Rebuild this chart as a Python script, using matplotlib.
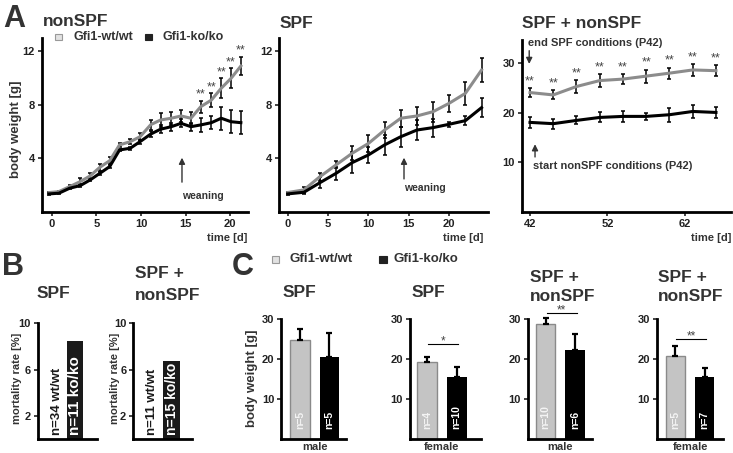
import matplotlib
matplotlib.use('Agg')
import matplotlib.pyplot as plt
from matplotlib.patches import Rectangle
from matplotlib.transforms import blended_transform_factory

plt.rcParams['font.family'] = 'Liberation Sans'
plt.rcParams['font.weight'] = 'bold'
plt.rcParams['text.color'] = '#222222'
plt.rcParams['xtick.color'] = '#222222'
plt.rcParams['ytick.color'] = '#222222'

W, H = 733, 453
GRAY = '#8c8c8c'
DARK = '#333333'

# ---- A: growth curves ----
nonspf_days = [-0.3, 0.8, 2.0, 3.2, 4.3, 5.4, 6.5, 7.6, 8.8, 9.9, 11.1, 12.2, 13.4, 14.5, 15.6, 16.7, 17.9, 19.0, 20.1, 21.2]
nonspf_wt = [1.43, 1.5, 1.87, 2.25, 2.67, 3.32, 3.81, 4.99, 5.23, 5.6, 6.5, 6.85, 6.98, 7.15, 6.98, 7.84, 8.34, 9.22, 9.96, 10.88]
nonspf_wt_err = [0.05, 0.08, 0.1, 0.25, 0.22, 0.25, 0.25, 0.15, 0.2, 0.25, 0.37, 0.5, 0.47, 0.46, 0.45, 0.45, 0.5, 0.75, 0.75, 0.7]
nonspf_ko = [1.33, 1.38, 1.75, 1.95, 2.37, 2.87, 3.37, 4.61, 4.74, 5.23, 5.8, 6.16, 6.35, 6.6, 6.35, 6.48, 6.65, 6.98, 6.72, 6.65]
nonspf_ko_err = [0.05, 0.05, 0.08, 0.1, 0.1, 0.1, 0.1, 0.1, 0.1, 0.15, 0.2, 0.3, 0.3, 0.3, 0.3, 0.5, 0.47, 0.87, 0.87, 0.87]
nonspf_sig = [15, 16, 17, 18, 19]

spf_days = [0, 2, 4, 6, 8, 10, 12, 14, 16, 18, 20, 22, 24]
spf_wt = [1.43, 1.63, 2.62, 3.5, 4.37, 5.1, 6.1, 6.98, 7.15, 7.47, 8.1, 8.84, 10.58]
spf_wt_err = [0.05, 0.2, 0.3, 0.25, 0.5, 0.63, 0.62, 0.62, 0.7, 0.75, 0.62, 0.87, 0.87]
spf_ko = [1.33, 1.45, 2.17, 2.87, 3.67, 4.24, 4.99, 5.6, 6.1, 6.28, 6.53, 6.8, 7.77]
spf_ko_err = [0.05, 0.15, 0.42, 0.5, 0.8, 0.62, 0.75, 0.74, 0.74, 0.68, 0.2, 0.35, 0.7]

mix_days = [42, 45, 48, 51, 54, 57, 60, 63, 66]
mix_wt = [24.08, 23.6, 25.3, 26.5, 26.8, 27.4, 28.0, 28.65, 28.5]
mix_wt_err = [0.9, 0.9, 1.3, 1.3, 1.0, 1.3, 1.1, 1.2, 1.1]
mix_ko = [18.05, 17.79, 18.45, 19.05, 19.26, 19.26, 19.6, 20.26, 20.06]
mix_ko_err = [1.1, 1.0, 0.8, 1.0, 1.1, 0.75, 1.4, 1.3, 1.1]
mix_sig = [0, 1, 2, 3, 4, 5, 6, 7, 8]

# ---- B: mortality ----
mort_spf = [0, 8.5]
mort_spf_n = [34, 11]
mort_mix = [0, 6.75]
mort_mix_n = [11, 15]

# ---- C: adult body weight ----
c_sex = ['male', 'female', 'male', 'female']
c_wt = [24.75, 19.4, 28.8, 20.8]
c_wt_err = [2.75, 1.25, 1.6, 2.5]
c_ko = [20.65, 15.6, 22.4, 15.5]
c_ko_err = [6.0, 2.55, 3.85, 2.4]
c_wt_n = [5, 4, 10, 5]
c_ko_n = [5, 10, 6, 7]
c_sig = ['', '*', '**', '**']
c_sig_y = [0, 23.75, 31.5, 25.0]

fig = plt.figure(figsize=(W / 100, H / 100), dpi=100)


def add_ax(x0, y0, x1, y1):
    return fig.add_axes([x0 / W, 1 - y1 / H, (x1 - x0) / W, (y1 - y0) / H])


def ftext(x, y, s, **kw):
    return fig.text(x / W, 1 - y / H, s, **kw)


def style(ax):
    for s in ['top', 'right']:
        ax.spines[s].set_visible(False)
    for s in ['left', 'bottom']:
        ax.spines[s].set_linewidth(2)
    ax.tick_params(width=1.2, length=3, labelsize=8, pad=2)


def growth(ax, days, wt, wt_err, ko, ko_err):
    ax.errorbar(days, wt, yerr=wt_err, color=GRAY, lw=2.2, ecolor='black',
                elinewidth=1.1, capsize=1.6, capthick=1.1, clip_on=False)
    ax.errorbar(days, ko, yerr=ko_err, color='black', lw=2.2, ecolor='black',
                elinewidth=1.1, capsize=1.6, capthick=1.1, clip_on=False)


# A1 nonSPF
ax = add_ax(42, 38.3, 248, 211.7)
style(ax)
growth(ax, nonspf_days, nonspf_wt, nonspf_wt_err, nonspf_ko, nonspf_ko_err)
for i in nonspf_sig:
    ax.text(nonspf_days[i], nonspf_wt[i] + nonspf_wt_err[i] + 0.45, '**',
            ha='center', va='center', fontsize=9, color='#444444', fontweight='normal')
ax.annotate('', xy=(14.6, 4.24), xytext=(14.6, 2.0),
            arrowprops=dict(arrowstyle='-|>', color=DARK, lw=1, mutation_scale=9))
ax.text(14.6, 1.2, 'weaning', ha='left', va='center', fontsize=7.5, color=DARK)
ax.set_xlim(-1.09, 22.0)
ax.set_ylim(0, 12.95)
ax.set_xticks([0, 5, 10, 15, 20])
ax.set_yticks([4, 8, 12])

# A2 SPF
ax = add_ax(279.3, 38.3, 488, 211.7)
style(ax)
growth(ax, spf_days, spf_wt, spf_wt_err, spf_ko, spf_ko_err)
ax.annotate('', xy=(14.4, 4.24), xytext=(14.4, 2.24),
            arrowprops=dict(arrowstyle='-|>', color=DARK, lw=1, mutation_scale=9))
ax.text(14.4, 1.75, 'weaning', ha='left', va='center', fontsize=7.5, color=DARK)
ax.set_xlim(-1.04, 24.8)
ax.set_ylim(0, 12.95)
ax.set_xticks([0, 5, 10, 15, 20])
ax.set_yticks([4, 8, 12])

# A3 SPF + nonSPF
ax = add_ax(521.7, 40, 730.7, 211.7)
style(ax)
growth(ax, mix_days, mix_wt, mix_wt_err, mix_ko, mix_ko_err)
for i in mix_sig:
    ax.text(mix_days[i], mix_wt[i] + mix_wt_err[i] + 1.4, '**',
            ha='center', va='center', fontsize=9, color='#444444', fontweight='normal')
ax.annotate('', xy=(41.9, 29.3), xytext=(41.9, 33.1),
            arrowprops=dict(arrowstyle='-|>', color=DARK, lw=1, mutation_scale=9))
ax.text(41.75, 34.1, 'end SPF conditions (P42)', ha='left', va='center',
        fontsize=8, color=DARK, clip_on=False)
ax.annotate('', xy=(42.65, 14.2), xytext=(42.65, 10.5),
            arrowprops=dict(arrowstyle='-|>', color=DARK, lw=1, mutation_scale=9))
ax.text(42.4, 9.2, 'start nonSPF conditions (P42)', ha='left', va='center',
        fontsize=8, color=DARK)
ax.set_xlim(40.93, 67.9)
ax.set_ylim(0, 34.7)
ax.set_xticks([42, 52, 62])
ax.set_yticks([10, 20, 30])

# A titles / labels
ftext(3, 27, 'A', fontsize=22, va='baseline', color=DARK)
ftext(42.7, 26, 'nonSPF', fontsize=12.5, va='baseline', color=DARK)
ftext(280, 28, 'SPF', fontsize=12.5, va='baseline', color=DARK)
ftext(521.7, 28.3, 'SPF + nonSPF', fontsize=12.5, va='baseline', color=DARK)
ftext(16, 129, 'body weight [g]', rotation=90, ha='center', va='center', fontsize=9.5, color=DARK)
for xr in [247, 483, 731]:
    ftext(xr, 238, 'time [d]', ha='right', va='center', fontsize=8, color=DARK)

# A legend
fig.add_artist(Rectangle((55 / W, 1 - 40.3 / H), 6.7 / W, 6.7 / H, transform=fig.transFigure,
                         facecolor='#e2e2e2', edgecolor='#999999', lw=0.8))
ftext(73.3, 37.5, 'Gfi1-wt/wt', va='center', fontsize=9, color=DARK)
fig.add_artist(Rectangle((145 / W, 1 - 40.3 / H), 6.7 / W, 6.7 / H, transform=fig.transFigure,
                         facecolor='#222222', edgecolor='#222222', lw=0.8))
ftext(162.3, 37.5, 'Gfi1-ko/ko', va='center', fontsize=9, color=DARK)

# ---- B ----
b_specs = [(37.7, 96.7, -1.04, 2.19, mort_spf, mort_spf_n, 11),
           (133.3, 191.7, -0.92, 2.0, mort_mix, mort_mix_n, 10)]
for x0, x1, xl0, xl1, vals, ns, fs in b_specs:
    ax = add_ax(x0, 323.3, x1, 439.3)
    style(ax)
    ax.bar([0, 1], vals, width=0.86, color='#1a1a1a')
    ax.text(0, 0.35, f'n={ns[0]} wt/wt', rotation=90, ha='center', va='bottom',
            fontsize=9.5, color='#1a1a1a')
    ax.text(1, 0.4, f'n={ns[1]} ko/ko', rotation=90, ha='center', va='bottom',
            fontsize=fs, color='white')
    ax.set_xlim(xl0, xl1)
    ax.set_ylim(0, 10)
    ax.set_xticks([])
    ax.set_yticks([2, 6, 10])

ftext(1.7, 275, 'B', fontsize=22, va='baseline', color=DARK)
ftext(36.7, 298, 'SPF', fontsize=12.5, va='baseline', color=DARK)
ftext(135, 278, 'SPF +', fontsize=12.5, va='baseline', color=DARK)
ftext(135, 300, 'nonSPF', fontsize=12.5, va='baseline', color=DARK)
ftext(17, 378, 'mortality rate [%]', rotation=90, ha='center', va='center', fontsize=8, color=DARK)
ftext(115.5, 378, 'mortality rate [%]', rotation=90, ha='center', va='center', fontsize=8, color=DARK)

# ---- C ----
c_boxes = [(281.3, 346.3, -0.64, 1.58), (409.7, 481.3, -0.57, 1.82),
           (527.7, 592.3, -0.61, 1.58), (656.7, 723.3, -0.63, 1.63)]
for k, (x0, x1, xl0, xl1) in enumerate(c_boxes):
    ax = add_ax(x0, 319.3, x1, 439.3)
    style(ax)
    ax.bar([0], [c_wt[k]], width=0.66, color='#c4c4c4', edgecolor='#8a8a8a', lw=1)
    ax.bar([1], [c_ko[k]], width=0.66, color='black')
    ax.errorbar([0, 1], [c_wt[k], c_ko[k]], yerr=[[0, 0], [c_wt_err[k], c_ko_err[k]]],
                fmt='none', ecolor='black', elinewidth=1.6, capsize=2.5, capthick=1.6, clip_on=False)
    ax.text(0, 2.5, f'n={c_wt_n[k]}', rotation=90, ha='center', va='bottom', fontsize=7.5, color='#f4f4f4')
    ax.text(1, 2.5, f'n={c_ko_n[k]}', rotation=90, ha='center', va='bottom', fontsize=7.5, color='white')
    if c_sig[k]:
        ax.plot([0.03, 1.05], [c_sig_y[k], c_sig_y[k]], color='black', lw=0.8, clip_on=False)
        ax.text(0.54, c_sig_y[k] + 0.8, c_sig[k], ha='center', va='center', fontsize=8.5,
                color='#444444', fontweight='normal', clip_on=False)
    tr = blended_transform_factory(ax.transData, ax.transAxes)
    ax.text(0.5, -0.06, c_sex[k], transform=tr, ha='center', va='center', fontsize=8, color=DARK)
    ax.set_xlim(xl0, xl1)
    ax.set_ylim(0, 30)
    ax.set_xticks([])
    ax.set_yticks([10, 20, 30])

ftext(231.7, 275, 'C', fontsize=22, va='baseline', color=DARK)
ftext(283, 297, 'SPF', fontsize=12.5, va='baseline', color=DARK)
ftext(411.7, 297, 'SPF', fontsize=12.5, va='baseline', color=DARK)
for xl in [530, 658]:
    ftext(xl, 282, 'SPF +', fontsize=12.5, va='baseline', color=DARK)
    ftext(xl, 301, 'nonSPF', fontsize=12.5, va='baseline', color=DARK)
ftext(251.5, 378.5, 'body weight [g]', rotation=90, ha='center', va='center', fontsize=9.5, color=DARK)

fig.add_artist(Rectangle((271.7 / W, 1 - 263.3 / H), 7.5 / W, 7.5 / H, transform=fig.transFigure,
                         facecolor='#e2e2e2', edgecolor='#999999', lw=0.8))
ftext(290, 259.3, 'Gfi1-wt/wt', va='center', fontsize=9.5, color=DARK)
fig.add_artist(Rectangle((379.3 / W, 1 - 263.3 / H), 7.5 / W, 7.5 / H, transform=fig.transFigure,
                         facecolor='#222222', edgecolor='#222222', lw=0.8))
ftext(393.3, 259.3, 'Gfi1-ko/ko', va='center', fontsize=9.5, color=DARK)

fig.savefig('out.png', dpi=100)
